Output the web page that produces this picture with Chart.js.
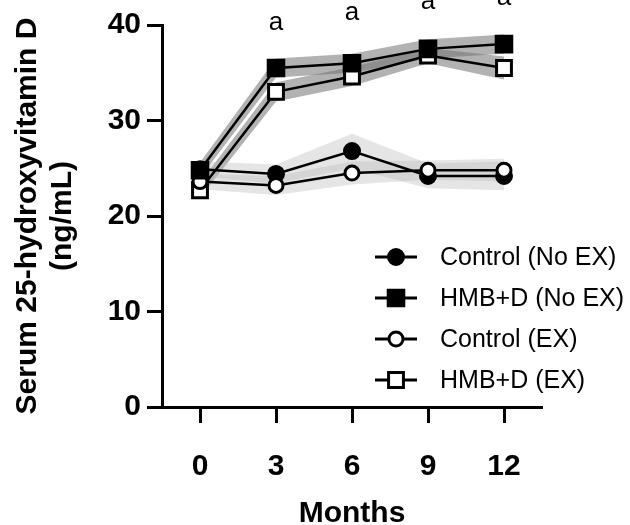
<!DOCTYPE html>
<html>
<head>
<meta charset="utf-8">
<script src="https://cdn.jsdelivr.net/npm/chart.js@4/dist/chart.umd.min.js"></script>
<style>
  body { margin: 0; background: #fff; }
  #wrap { width: 630px; height: 525px; }
</style>
</head>
<body>
<div id="wrap"><canvas id="vitD" width="630" height="525"></canvas></div>
<script>
const months = [0, 3, 6, 9, 12];

// group means (ng/mL)
const ctrlNoEx = [24.9, 24.4, 26.8, 24.2, 24.2];
const hmbNoEx = [24.8, 35.5, 36.0, 37.5, 38.0];
const ctrlEx = [23.6, 23.2, 24.5, 24.8, 24.8];
const hmbEx = [22.7, 33.0, 34.6, 36.8, 35.5];

// SEM for the shaded bands
const ctrlNoExSem = [0.8, 1.0, 1.8, 1.3, 1.5];
const hmbNoExSem = [0.8, 1.0, 1.0, 1.0, 1.0];
const ctrlExSem = [0.8, 1.0, 1.2, 1.0, 1.2];
const hmbExSem = [0.8, 1.0, 1.0, 0.8, 1.2];

// significance letters
const sigMonths = [3, 6, 9, 12];
const sigY = [40.2, 41.3, 42.4, 42.8];
const sigText = 'a';

const yTicks = [0, 10, 20, 30, 40];

const FONT = 'Arial, "Liberation Sans", Helvetica, sans-serif';
Chart.defaults.font.family = FONT;
Chart.defaults.color = '#000';

const pts = (vals) => vals.map((v, i) => ({ x: months[i], y: v }));
const upper = (vals, sem) => vals.map((v, i) => ({ x: months[i], y: v + sem[i] }));
const lower = (vals, sem) => vals.map((v, i) => ({ x: months[i], y: v - sem[i] }));

const hmbBand = 'rgba(115, 115, 115, 0.55)';
const ctrlBand = 'rgba(190, 190, 190, 0.4)';

function band(vals, sem, color) {
  return [
    { label: '', data: upper(vals, sem), borderWidth: 0, pointRadius: 0, fill: false, order: 20 },
    { label: '', data: lower(vals, sem), borderWidth: 0, pointRadius: 0, fill: '-1', backgroundColor: color, order: 20 }
  ];
}

const series = [
  { label: 'Control (No EX)', data: pts(ctrlNoEx), pointStyle: 'circle', pointRadius: 7.5, pointBackgroundColor: '#000', order: 4 },
  { label: 'HMB+D (No EX)', data: pts(hmbNoEx), pointStyle: 'rect', pointRadius: 11, pointBackgroundColor: '#000', order: 1 },
  { label: 'Control (EX)', data: pts(ctrlEx), pointStyle: 'circle', pointRadius: 7, pointBackgroundColor: '#fff', order: 2 },
  { label: 'HMB+D (EX)', data: pts(hmbEx), pointStyle: 'rect', pointRadius: 10.5, pointBackgroundColor: '#fff', order: 3 }
].map(s => Object.assign({
  borderColor: '#000', borderWidth: 2.5, pointBorderColor: '#000', pointBorderWidth: 3,
  fill: false, tension: 0
}, s, { pointHoverRadius: s.pointRadius }));

const datasets = [
  ...band(ctrlNoEx, ctrlNoExSem, ctrlBand),
  ...band(ctrlEx, ctrlExSem, ctrlBand),
  ...band(hmbNoEx, hmbNoExSem, hmbBand),
  ...band(hmbEx, hmbExSem, hmbBand),
  ...series
];

const extras = {
  id: 'extras',
  afterDraw(chart) {
    const { ctx, scales: { x, y } } = chart;
    ctx.save();
    ctx.fillStyle = '#000';
    ctx.textAlign = 'center';
    ctx.textBaseline = 'middle';
    ctx.font = '26px ' + FONT;
    sigMonths.forEach((m, i) => {
      ctx.fillText(sigText, x.getPixelForValue(m), y.getPixelForValue(sigY[i]));
    });

    // legend, lower right inside the plot
    const lx = 375, ly = 257, gap = 41;
    ctx.textAlign = 'left';
    ctx.font = '25px ' + FONT;
    series.forEach((s, i) => {
      const cy = ly + i * gap;
      ctx.strokeStyle = '#000';
      ctx.lineWidth = 3;
      ctx.beginPath();
      ctx.moveTo(lx, cy);
      ctx.lineTo(lx + 42, cy);
      ctx.stroke();
      const cx = lx + 21;
      ctx.lineWidth = 3;
      ctx.fillStyle = s.pointBackgroundColor;
      ctx.beginPath();
      if (s.pointStyle === 'circle') {
        ctx.arc(cx, cy, s.pointRadius, 0, Math.PI * 2);
      } else {
        const h = s.pointRadius * Math.SQRT1_2;
        ctx.rect(cx - h, cy - h, 2 * h, 2 * h);
      }
      ctx.fill();
      ctx.stroke();
      ctx.fillStyle = '#000';
      ctx.textBaseline = 'middle';
      ctx.fillText(s.label, 440, cy + 1);
    });
    ctx.restore();
  }
};

new Chart(document.getElementById('vitD'), {
  type: 'line',
  data: { datasets },
  options: {
    responsive: false,
    animation: false,
    events: [],
    layout: { padding: { top: 25, right: 88, left: 0, bottom: 0 } },
    plugins: { legend: { display: false }, tooltip: { enabled: false } },
    scales: {
      x: {
        type: 'linear',
        min: -1.5,
        max: 13.5,
        afterBuildTicks: (s) => { s.ticks = months.map(v => ({ value: v })); },
        ticks: { font: { size: 30, weight: 'bold' }, color: '#000', padding: 26, maxRotation: 0, autoSkip: false },
        grid: { drawOnChartArea: false, drawTicks: true, tickLength: 16, tickWidth: 3, tickColor: '#000' },
        border: { display: true, color: '#000', width: 3 },
        title: { display: true, text: 'Months', font: { size: 30, weight: 'bold' }, color: '#000', padding: { top: 0, bottom: -7 } },
        afterFit: (s) => { s.height = 118; }
      },
      y: {
        min: 0,
        max: 40,
        afterBuildTicks: (s) => { s.ticks = yTicks.map(v => ({ value: v })); },
        ticks: { font: { size: 30, weight: 'bold' }, color: '#000', padding: 6 },
        grid: { drawOnChartArea: false, drawTicks: true, tickLength: 15, tickWidth: 3, tickColor: '#000' },
        border: { display: true, color: '#000', width: 3 },
        title: {
          display: true,
          text: ['Serum 25-hydroxyvitamin D', '(ng/mL)'],
          font: { size: 30, weight: 'bold', lineHeight: 1.17 },
          color: '#000',
          padding: { top: 10, bottom: 0 }
        },
        afterFit: (s) => { s.width = 162; }
      }
    }
  },
  plugins: [extras]
});
</script>
</body>
</html>
